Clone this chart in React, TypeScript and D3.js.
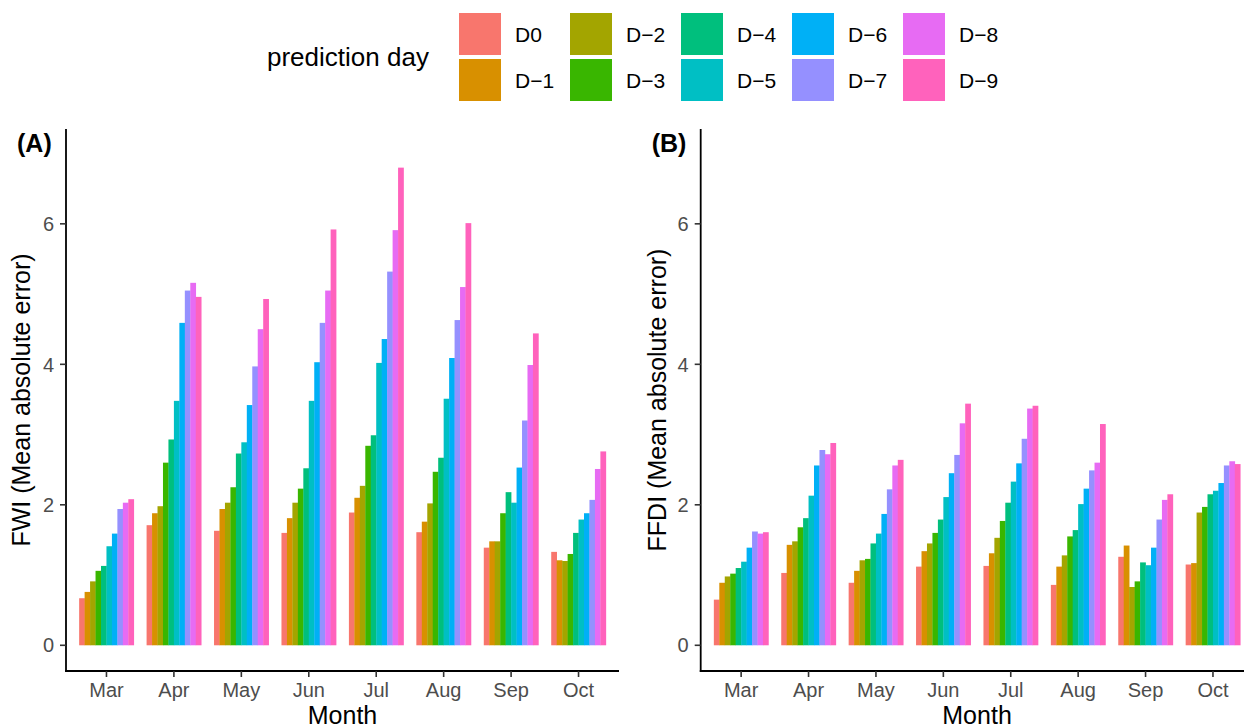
import React from "react";
import * as d3 from "d3";

const months = ["Mar", "Apr", "May", "Jun", "Jul", "Aug", "Sep", "Oct"];
const days = ["D0", "D\u22121", "D\u22122", "D\u22123", "D\u22124", "D\u22125", "D\u22126", "D\u22127", "D\u22128", "D\u22129"];
const dayColors = ["#F8766D", "#D89000", "#A3A500", "#39B600", "#00BF7D", "#00BFC4", "#00B0F6", "#9590FF", "#E76BF3", "#FF62BC"];
const yTicks = [0, 2, 4, 6];

// FWI mean absolute error, per month, D0..D-9
const fwiMar = [0.67, 0.76, 0.91, 1.06, 1.13, 1.41, 1.59, 1.94, 2.03, 2.08];
const fwiApr = [1.71, 1.88, 1.98, 2.6, 2.93, 3.48, 4.59, 5.05, 5.16, 4.96];
const fwiMay = [1.63, 1.94, 2.03, 2.25, 2.73, 2.89, 3.42, 3.97, 4.5, 4.93];
const fwiJun = [1.6, 1.81, 2.03, 2.23, 2.52, 3.48, 4.03, 4.59, 5.05, 5.92];
const fwiJul = [1.89, 2.1, 2.27, 2.84, 2.99, 4.02, 4.36, 5.32, 5.91, 6.8];
const fwiAug = [1.61, 1.76, 2.02, 2.47, 2.67, 3.51, 4.09, 4.63, 5.1, 6.01];
const fwiSep = [1.39, 1.48, 1.48, 1.88, 2.18, 2.03, 2.53, 3.2, 3.99, 4.44];
const fwiOct = [1.33, 1.21, 1.2, 1.3, 1.6, 1.79, 1.88, 2.07, 2.51, 2.76];

// FFDI mean absolute error, per month, D0..D-9
const ffdiMar = [0.65, 0.89, 0.98, 1.02, 1.1, 1.19, 1.39, 1.62, 1.59, 1.61];
const ffdiApr = [1.03, 1.43, 1.48, 1.68, 1.81, 2.13, 2.56, 2.78, 2.72, 2.88];
const ffdiMay = [0.89, 1.06, 1.21, 1.23, 1.45, 1.59, 1.87, 2.22, 2.56, 2.64];
const ffdiJun = [1.12, 1.34, 1.45, 1.6, 1.79, 2.11, 2.45, 2.71, 3.16, 3.44];
const ffdiJul = [1.13, 1.31, 1.53, 1.77, 2.03, 2.33, 2.59, 2.94, 3.37, 3.41];
const ffdiAug = [0.86, 1.12, 1.28, 1.55, 1.64, 2.01, 2.23, 2.49, 2.6, 3.15];
const ffdiSep = [1.26, 1.42, 0.83, 0.91, 1.18, 1.14, 1.39, 1.79, 2.07, 2.15];
const ffdiOct = [1.15, 1.17, 1.89, 1.97, 2.15, 2.2, 2.31, 2.56, 2.62, 2.58];

const fwiData = [fwiMar, fwiApr, fwiMay, fwiJun, fwiJul, fwiAug, fwiSep, fwiOct];
const ffdiData = [ffdiMar, ffdiApr, ffdiMay, ffdiJun, ffdiJul, ffdiAug, ffdiSep, ffdiOct];

const FONT = "'Liberation Sans', Arial, Helvetica, sans-serif";

const W = 1244;
const H = 728;
const panelTop = 129;
const panelBottom = 671;
const yDomain = [-0.366, 7.35];

type PanelProps = {
  x0: number;
  x1: number;
  data: number[][];
  tag: string;
  yTitle: string;
  yTitleX: number;
};

function Panel({ x0, x1, data, tag, yTitle, yTitleX }: PanelProps) {
  const x = d3.scalePoint<string>().domain(months).range([x0, x1]).padding(0.6);
  const step = x.step();
  const groupW = step * 0.81;
  const inner = d3.scaleBand<string>().domain(days).range([-groupW / 2, groupW / 2]).padding(0);
  const y = d3.scaleLinear().domain(yDomain).range([panelBottom, panelTop]);
  const midY = (panelTop + panelBottom) / 2;
  return (
    <g>
      {months.map((m, mi) => (
        <g key={m} transform={`translate(${x(m)},0)`}>
          {days.map((d, di) => {
            const v = data[mi][di];
            return (
              <rect
                key={d}
                x={inner(d)}
                y={y(v)}
                width={inner.bandwidth() + 0.3}
                height={y(0) - y(v)}
                fill={dayColors[di]}
              />
            );
          })}
        </g>
      ))}
      <line x1={x0} x2={x0} y1={panelTop} y2={panelBottom + 0.9} stroke="#000" strokeWidth={1.8} />
      <line x1={x0 - 0.9} x2={x1} y1={panelBottom} y2={panelBottom} stroke="#000" strokeWidth={1.8} />
      {yTicks.map((t) => (
        <g key={t}>
          <line x1={x0 - 6} x2={x0} y1={y(t)} y2={y(t)} stroke="#333" strokeWidth={1.6} />
          <text x={x0 - 12} y={y(t)} dy="0.36em" textAnchor="end" fontSize={20} fill="#4D4D4D" fontFamily={FONT}>
            {t}
          </text>
        </g>
      ))}
      {months.map((m) => (
        <g key={m}>
          <line x1={x(m)} x2={x(m)} y1={panelBottom} y2={panelBottom + 6} stroke="#333" strokeWidth={1.6} />
          <text x={x(m)} y={697} textAnchor="middle" fontSize={20} fill="#4D4D4D" fontFamily={FONT}>
            {m}
          </text>
        </g>
      ))}
      <text x={(x0 + x1) / 2} y={724} textAnchor="middle" fontSize={25} fill="#000" fontFamily={FONT}>
        Month
      </text>
      <text
        transform={`translate(${yTitleX},${midY}) rotate(-90)`}
        textAnchor="middle"
        fontSize={25}
        fill="#000"
        fontFamily={FONT}
      >
        {yTitle}
      </text>
      <text x={x0 - 49} y={152} fontSize={25} fontWeight="bold" fill="#000" fontFamily={FONT}>
        {tag}
      </text>
    </g>
  );
}

function Legend() {
  const keySize = 42;
  const colX = [459, 570, 681, 792, 903];
  const rowY = [13, 59];
  return (
    <g>
      <text x={267} y={57} dy="0.36em" fontSize={26} fill="#000" fontFamily={FONT}>
        prediction day
      </text>
      {days.map((d, i) => {
        const c = Math.floor(i / 2);
        const r = i % 2;
        return (
          <g key={d}>
            <rect x={colX[c]} y={rowY[r]} width={keySize} height={keySize} fill={dayColors[i]} />
            <text
              x={colX[c] + keySize + 14}
              y={rowY[r] + keySize / 2}
              dy="0.36em"
              fontSize={21}
              fill="#000"
              fontFamily={FONT}
            >
              {d}
            </text>
          </g>
        );
      })}
    </g>
  );
}

export default function App() {
  return (
    <div style={{ position: "absolute", left: 0, top: 0, width: W, height: H, background: "#fff" }}>
      <svg width={W} height={H} style={{ display: "block" }}>
        <rect x={0} y={0} width={W} height={H} fill="#fff" />
        <Legend />
        <Panel x0={66} x1={619} data={fwiData} tag="(A)" yTitle="FWI (Mean absolute error)" yTitleX={30} />
        <Panel x0={700.7} x1={1253.4} data={ffdiData} tag="(B)" yTitle="FFDI (Mean absolute error)" yTitleX={666} />
      </svg>
    </div>
  );
}
